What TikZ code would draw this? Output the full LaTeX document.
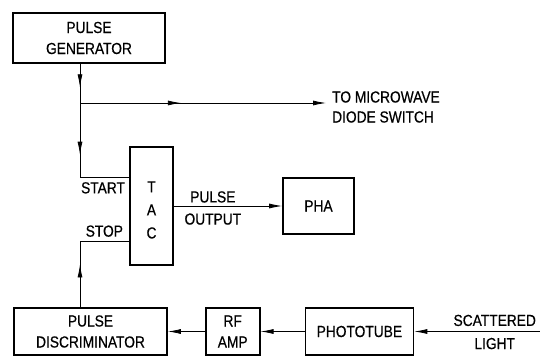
\documentclass[tikz,border=0pt]{standalone}
\usepackage{fontspec}
\setmainfont{Liberation Sans}[FakeStretch=0.86,FakeBold=0.5]
\usetikzlibrary{positioning,arrows.meta,decorations.markings}

\begin{document}
\begin{tikzpicture}[x=1pt,y=-1pt,
    blk/.style={draw, line width=1.7pt, align=center, inner sep=0pt, font=\fontsize{16}{21}\selectfont},
    lbl/.style={align=center, inner sep=1pt, font=\fontsize{16}{20}\selectfont},
    conn/.style={line width=0.8pt},
    arr/.style={conn, -{Latex[length=13pt,width=5pt]}},
    midarr/.style={conn, postaction={decorate},
        decoration={markings, mark=at position #1 with {\arrow{Latex[length=13pt,width=5pt]}}}}
]
    \useasboundingbox (0,0) rectangle (540,358);

    % blocks
    \node[blk, minimum width=152pt, minimum height=50pt] (pgen) at (89,38) {PULSE\\GENERATOR};
    \node[blk, minimum width=43pt, minimum height=118pt] (tac) at (151.5,206) {};
    \node[lbl, font=\fontsize{16}{23}\selectfont] (taclbl) at ([yshift=-4pt]tac.center) {T\\A\\C};
    \node[blk, minimum width=71pt, minimum height=56pt] (pha) at (318.5,206) {PHA};
    \node[blk, minimum width=153pt, minimum height=47pt] (pdisc) at (90.5,331.5) {PULSE\\DISCRIMINATOR};
    \node[blk, minimum width=54pt, minimum height=47pt, right=37pt of pdisc] (rfamp) {RF\\AMP};
    \node[blk, minimum width=108pt, minimum height=47pt, right=44pt of rfamp] (ptube) {PHOTOTUBE};

    % junctions and free ends
    \coordinate (split) at (80,103);
    \coordinate (startc) at (80,177);
    \coordinate (stopc) at (80,241);
    \coordinate (micro) at (326,103);
    \coordinate (light) at (540,331.5);

    % connectors
    \draw[midarr=0.6] (pgen.south -| split) -- (split);
    \draw[midarr=0.42] (split) -- (startc) -- (startc -| tac.west);
    \draw[arr, midarr=0.41] (split) -- (micro);
    \draw[midarr=0.37] (pdisc.north -| stopc) -- (stopc) -- (stopc -| tac.west);
    \draw[arr] (tac.east) -- (pha.west)
        node[lbl, above=2pt, pos=0.36] (pulselbl) {PULSE}
        node[lbl, below=6pt, pos=0.36] (outlbl) {OUTPUT};
    \draw[arr] (rfamp.west) -- (pdisc.east);
    \draw[arr] (ptube.west) -- (rfamp.east);
    \draw[arr] (light) -- (ptube.east)
        node[lbl, above=4pt, pos=0.36] (scatlbl) {SCATTERED}
        node[lbl, below=5pt, pos=0.36] (lightlbl) {LIGHT};

    % labels
    \node[lbl, anchor=west, align=left] (mwlbl) at ([xshift=5pt,yshift=-4pt]micro) {TO MICROWAVE\\DIODE SWITCH};
    \node[lbl, anchor=north east] (startlbl) at ([xshift=-3pt,yshift=-4pt]startc -| tac.west) {START};
    \node[lbl, anchor=south east] (stoplbl) at ([xshift=-5pt,yshift=3pt]stopc -| tac.west) {STOP};
\end{tikzpicture}
\end{document}
